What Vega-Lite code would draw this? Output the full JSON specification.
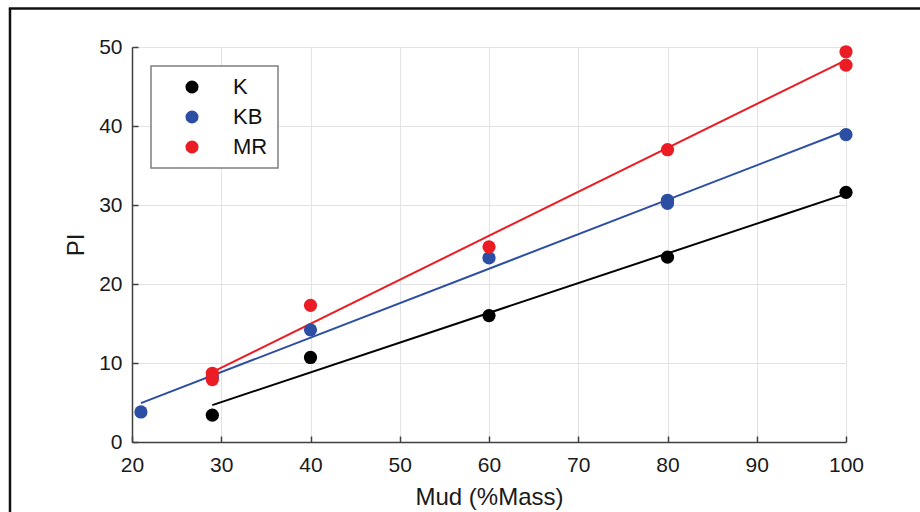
{
  "$schema": "https://vega.github.io/schema/vega-lite/v6.json",
  "width": 714,
  "height": 395,
  "autosize": {"type": "none"},
  "padding": {"left": 132, "top": 47, "right": 74, "bottom": 70},
  "background": "white",
  "config": {
    "view": {"stroke": null},
    "font": "Liberation Sans",
    "axis": {
      "domainColor": "#404040",
      "domainWidth": 1.5,
      "tickColor": "#404040",
      "tickSize": -6,
      "tickWidth": 1.5,
      "gridColor": "#e3e3e3",
      "gridWidth": 1,
      "labelFlush": false,
      "labelFont": "Liberation Sans",
      "labelFontSize": 21,
      "labelColor": "#1a1a1a",
      "titleFont": "Liberation Sans",
      "titleFontSize": 24,
      "titleFontWeight": "normal",
      "titleColor": "#1a1a1a"
    },
    "legend": {
      "labelFont": "Liberation Sans",
      "labelFontSize": 22,
      "labelColor": "#111111"
    }
  },
  "data": {
    "values": [
      {"series": "K", "mud": 29, "pi": 3.4},
      {"series": "K", "mud": 40, "pi": 10.7},
      {"series": "K", "mud": 60, "pi": 16.0},
      {"series": "K", "mud": 80, "pi": 23.4},
      {"series": "K", "mud": 100, "pi": 31.6},
      {"series": "KB", "mud": 21, "pi": 3.8},
      {"series": "KB", "mud": 29, "pi": 8.2},
      {"series": "KB", "mud": 40, "pi": 14.2},
      {"series": "KB", "mud": 60, "pi": 23.3},
      {"series": "KB", "mud": 80, "pi": 30.2},
      {"series": "KB", "mud": 80, "pi": 30.6},
      {"series": "KB", "mud": 100, "pi": 38.9},
      {"series": "MR", "mud": 29, "pi": 8.7},
      {"series": "MR", "mud": 29, "pi": 7.9},
      {"series": "MR", "mud": 40, "pi": 17.3},
      {"series": "MR", "mud": 60, "pi": 24.7},
      {"series": "MR", "mud": 80, "pi": 37.0},
      {"series": "MR", "mud": 100, "pi": 49.4},
      {"series": "MR", "mud": 100, "pi": 47.7}
    ]
  },
  "layer": [
    {
      "transform": [
        {"regression": "pi", "on": "mud", "groupby": ["series"]}
      ],
      "mark": {"type": "line", "strokeWidth": 2},
      "encoding": {
        "x": {
          "field": "mud", "type": "quantitative",
          "scale": {"domain": [20, 100], "nice": false, "zero": false},
          "axis": {"values": [20, 30, 40, 50, 60, 70, 80, 90, 100], "title": "Mud (%Mass)", "labelPadding": 18, "titlePadding": 10}
        },
        "y": {
          "field": "pi", "type": "quantitative",
          "scale": {"domain": [0, 50], "nice": false},
          "axis": {"values": [0, 10, 20, 30, 40, 50], "title": "PI", "labelPadding": 16, "titlePadding": 10}
        },
        "color": {
          "field": "series", "type": "nominal",
          "scale": {"domain": ["K", "KB", "MR"], "range": ["#000000", "#2c4fa3", "#ec1c24"]}
        }
      }
    },
    {
      "mark": {"type": "circle", "size": 175, "opacity": 1},
      "encoding": {
        "x": {"field": "mud", "type": "quantitative"},
        "y": {"field": "pi", "type": "quantitative"},
        "color": {
          "field": "series", "type": "nominal",
          "legend": {
            "title": null,
            "orient": "none",
            "legendX": 19,
            "legendY": 19,
            "symbolType": "circle",
            "symbolSize": 170,
            "symbolOpacity": 1,
            "symbolStrokeWidth": 0,
            "padding": 10,
            "rowPadding": 8,
            "symbolOffset": 20,
            "labelOffset": 30,
            "strokeColor": "#7f7f7f",
            "fillColor": "white",
            "encode": {"legend": {"update": {"strokeWidth": {"value": 1.5}}}}
          }
        }
      }
    },
    {
      "data": {"values": [{}]},
      "mark": {"type": "rule", "color": "#111111", "strokeWidth": 2.5, "clip": false},
      "encoding": {
        "x": {"datum": 6.33, "type": "quantitative"},
        "y": {"datum": -10, "type": "quantitative"},
        "y2": {"datum": 54.9}
      }
    },
    {
      "data": {"values": [{}]},
      "mark": {"type": "rule", "color": "#111111", "strokeWidth": 2.5, "clip": false},
      "encoding": {
        "x": {"datum": 6.2, "type": "quantitative"},
        "x2": {"datum": 110},
        "y": {"datum": 54.87, "type": "quantitative"}
      }
    }
  ]
}
